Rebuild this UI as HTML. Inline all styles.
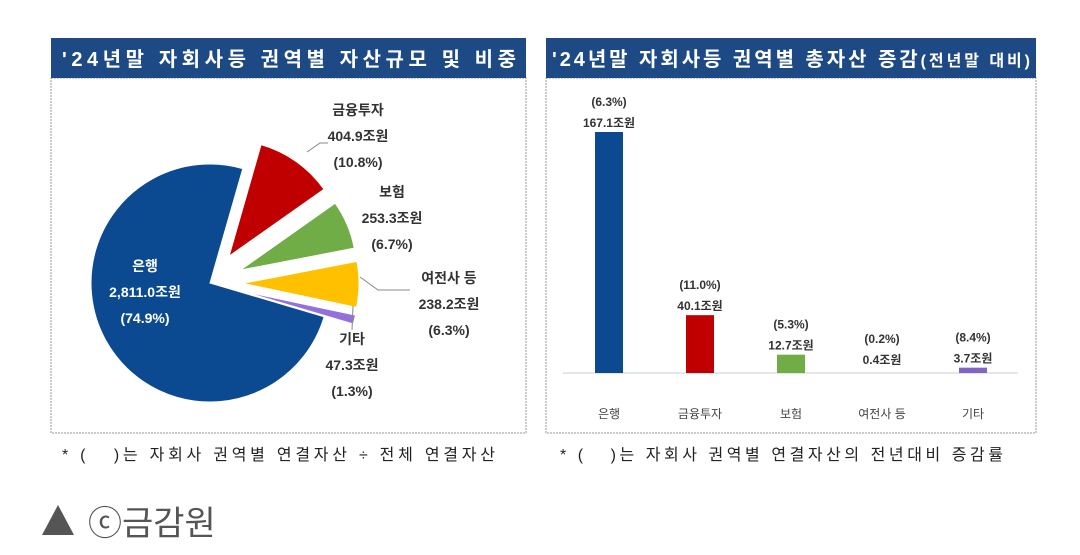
<!DOCTYPE html>
<html><head><meta charset="utf-8">
<style>
body{margin:0;width:1080px;height:555px;background:#fff;overflow:hidden;font-family:"Liberation Sans","Noto Sans CJK KR",sans-serif;}
svg{display:block}
text{white-space:pre}
</style></head>
<body>
<svg id="chart" width="1080" height="555" xmlns="http://www.w3.org/2000/svg">
  <rect x="51" y="78" width="475" height="355" fill="#fff" stroke="#999" stroke-dasharray="2,1"/>
  <rect x="51" y="38" width="475" height="40" fill="#1d4a84"/>
  <text x="62" y="66" textLength="454" lengthAdjust="spacing" fill="#fff" font-size="20" font-weight="bold">'24년말 자회사등 권역별 자산규모 및 비중</text>
  <g id="pie"></g>
  <text x="62" y="460" textLength="433" lengthAdjust="spacing" font-size="16" fill="#222">* (   )는 자회사 권역별 연결자산 ÷ 전체 연결자산</text>
  <rect x="546" y="78" width="490" height="355" fill="#fff" stroke="#999" stroke-dasharray="2,1"/>
  <rect x="546" y="38" width="490" height="40" fill="#1d4a84"/>
  <text x="552" y="66" textLength="478" lengthAdjust="spacing" fill="#fff" font-size="20" font-weight="bold">'24년말 자회사등 권역별 총자산 증감<tspan font-size="16">(전년말 대비)</tspan></text>
  <line x1="563" y1="373" x2="1018" y2="373" stroke="#ccc"/>
  <g id="bars"></g>
  <text x="560" y="460" textLength="443" lengthAdjust="spacing" font-size="16" fill="#222">* (   )는 자회사 권역별 연결자산의 전년대비 증감률</text>
  <polygon points="42,535 58,505 74,535" fill="#555"/>
  <text x="88" y="535" font-size="34" fill="#555">ⓒ금감원</text>
</svg>
<script>
const NS="http://www.w3.org/2000/svg";
const pieCats=["금융투자","보험","여전사 등","기타","은행"];
const pieValues=[404.9,253.3,238.2,47.3,2811.0];
const pieValueLabels=["404.9조원","253.3조원","238.2조원","47.3조원","2,811.0조원"];
const piePctLabels=["(10.8%)","(6.7%)","(6.3%)","(1.3%)","(74.9%)"];
const pieColors=["#c00000","#70ad47","#ffc000","#9370db","#0b4a91"];
const barCats=["은행","금융투자","보험","여전사 등","기타"];
const barValues=[167.1,40.1,12.7,0.4,3.7];
const barPctLabels=["(6.3%)","(11.0%)","(5.3%)","(0.2%)","(8.4%)"];
const barColors=["#0b4a91","#c00000","#70ad47","#ffc000","#8064c8"];

function mk(tag,attrs,parent){const e=document.createElementNS(NS,tag);for(const k in attrs)e.setAttribute(k,attrs[k]);parent.appendChild(e);return e;}

const pie=document.getElementById('pie');
const cx=210,cy=283,R=119,startDeg=16;
const total=pieValues.reduce((a,b)=>a+b,0);
let acc=startDeg;
const labelPos=[[358,115],[392,197],[449,283],[352,344],[145,271]];
pieValues.forEach((v,i)=>{
  const sweep=v/total*360;
  const a0=acc,a1=acc+sweep;acc=a1;
  const mid=(a0+a1)/2*Math.PI/180;
  const ex=i<4?33:0;
  const ox=cx+ex*Math.sin(mid),oy=cy-ex*Math.cos(mid);
  const r=i<4?116:R;
  const p=a=>[ox+r*Math.sin(a*Math.PI/180),oy-r*Math.cos(a*Math.PI/180)];
  const s=p(a0),e=p(a1);
  const path=mk('path',{d:`M${ox},${oy}L${s[0]},${s[1]}A${r},${r} 0 ${sweep>180?1:0} 1 ${e[0]},${e[1]}Z`,fill:pieColors[i],stroke:'#fff','stroke-width':1},pie);
  
  
  const [lx,ly]=labelPos[i];
  const fill=i===4?'#fff':'#333';
  [pieCats[i],pieValueLabels[i],piePctLabels[i]].forEach((t,j)=>{
    const tx=mk('text',{x:lx,y:ly+j*26,'text-anchor':'middle','font-size':14,'font-weight':'bold',fill:fill},pie);
    tx.textContent=t;
    
    
  });
});
[["M307,152 L320,143 L328,143"],["M360,277 L378,290 L410,290"],["M353,306 L352,330"]].forEach(d=>{
  const l=mk('path',{d:d[0],fill:'none',stroke:'#888','stroke-width':1},pie);
  
  
});

const bars=document.getElementById('bars');
const base=373,scale=241/167.1,x0=609,step=91,bw=28;
const yS=v=>base-v*scale;
barValues.forEach((v,i)=>{
  const xc=x0+i*step,y=yS(v);
  const h=base-y;
  if(h>=1){
    const r=mk('rect',{x:xc-bw/2,y:y,width:bw,height:h,fill:barColors[i]},bars);
    
    
  }
  const lab=Math.min(y,base-4);
  const t1=mk('text',{x:xc,y:lab-5,'text-anchor':'middle','font-size':12,'font-weight':'bold',fill:'#333'},bars);
  t1.textContent=v.toFixed(1)+'조원';
  
  
  const t2=mk('text',{x:xc,y:lab-26,'text-anchor':'middle','font-size':12,'font-weight':'bold',fill:'#333'},bars);
  t2.textContent=barPctLabels[i];
  
  
  const t3=mk('text',{x:xc,y:418,'text-anchor':'middle','font-size':12,fill:'#444'},bars);
  t3.textContent=barCats[i];
  
  
});
</script>
</body></html>
